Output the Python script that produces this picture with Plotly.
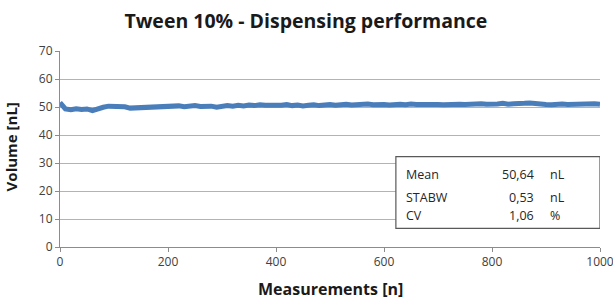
import plotly.graph_objects as go

measurements = list(range(0, 1001, 10))
volume_nl = [
    51.6, 49.3, 49.0, 49.4, 49.1, 49.3, 48.7, 49.5, 49.9, 50.3,
    50.2, 50.4, 50.1, 49.6, 49.7, 49.8, 50.0, 49.9, 50.2, 50.1,
    50.3, 50.2, 50.4, 50.1, 50.3, 50.5, 50.2, 50.4, 50.3, 49.9,
    50.2, 50.5, 50.3, 50.6, 50.4, 50.7, 50.5, 50.8, 50.6, 50.5,
    50.7, 50.6, 50.9, 50.5, 50.7, 50.4, 50.6, 50.8, 50.5, 50.7,
    50.9, 50.6, 50.8, 51.0, 50.7, 50.9, 50.8, 51.1, 50.8, 51.0,
    50.9, 50.7, 50.9, 51.0, 50.8, 51.1, 50.9, 51.0, 50.8, 51.1,
    50.9, 50.8, 51.0, 51.2, 51.0, 50.9, 51.1, 51.0, 51.2, 51.0,
    50.9, 51.1, 51.3, 51.0, 51.2, 51.1, 51.3, 51.4, 51.1, 51.2,
    50.9, 50.8, 51.0, 51.1, 50.9, 51.0, 51.2, 51.0, 51.1, 51.2,
    51.0,
]

stat_names = ["Mean", "STABW", "CV"]
stat_values = ["50,64", "0,53", "1,06"]
stat_units = ["nL", "nL", "%"]

x_ticks = [0, 200, 400, 600, 800, 1000]
y_ticks = [0, 10, 20, 30, 40, 50, 60, 70]

FONT = "'Open Sans', sans-serif"
TITLE_COLOR = "#1a1a1a"
TEXT_COLOR = "#404040"

fig = go.Figure()
fig.add_trace(go.Scatter(
    x=measurements, y=volume_nl, mode="lines",
    line=dict(color="#4a7ebb", width=5),
    hoverinfo="skip", showlegend=False, cliponaxis=False,
))

# statistics box
fig.add_shape(type="rect", xref="x", yref="y", x0=622, x1=1000, y0=6.65, y1=32.3,
              line=dict(color="#595959", width=1.2), fillcolor="white", layer="above")
row_y = [25.9, 17.7, 11.3]
for name, val, unit, yy in zip(stat_names, stat_values, stat_units, row_y):
    fig.add_annotation(x=637, y=yy, xref="x", yref="y", text=name, showarrow=False,
                       xanchor="left", yanchor="middle", font=dict(family=FONT, size=12.5, color="#262626"))
    fig.add_annotation(x=882, y=yy, xref="x", yref="y", text=val, showarrow=False,
                       xanchor="right", yanchor="middle", font=dict(family=FONT, size=12.5, color="#262626"))
    fig.add_annotation(x=904, y=yy, xref="x", yref="y", text=unit, showarrow=False,
                       xanchor="left", yanchor="middle", font=dict(family=FONT, size=12.5, color="#262626"))

# axis titles
fig.add_annotation(x=0.5, y=-0.214, xref="paper", yref="paper", text="<b>Measurements [n]</b>",
                   showarrow=False, xanchor="center", yanchor="middle",
                   font=dict(family=FONT, size=16, color=TITLE_COLOR))
fig.add_annotation(x=-0.089, y=0.513, xref="paper", yref="paper", text="<b>Volume [nL]</b>",
                   showarrow=False, xanchor="center", yanchor="middle", textangle=-90,
                   font=dict(family=FONT, size=15, color=TITLE_COLOR))

fig.update_layout(
    width=613, height=301,
    margin=dict(l=60, r=13, t=51, b=54),
    paper_bgcolor="white", plot_bgcolor="white",
    title=dict(text="<b>Tween 10% - Dispensing performance</b>", x=0.499, xanchor="center",
               xref="container", y=0.93, yanchor="middle",
               font=dict(family=FONT, size=19.5, color=TITLE_COLOR)),
    font=dict(family=FONT, color=TEXT_COLOR),
    xaxis=dict(
        range=[0, 1000], tickvals=x_ticks, ticks="outside", ticklen=4, tickcolor="#8c8c8c",
        showline=True, linecolor="#8c8c8c", linewidth=1, showgrid=False, zeroline=False,
        automargin=False, ticklabeloverflow="allow", tickfont=dict(size=12, color=TEXT_COLOR),
    ),
    yaxis=dict(
        range=[0, 70], tickvals=y_ticks, ticks="outside", ticklen=4, tickcolor="#8c8c8c",
        showline=True, linecolor="#8c8c8c", linewidth=1, showgrid=True, gridcolor="#b3b3b3",
        gridwidth=1, zeroline=False, automargin=False,
        tickfont=dict(size=12, color=TEXT_COLOR),
    ),
)

fig.write_html("out.html", config={"displayModeBar": False},
               post_script="document.body.style.margin='0px';")
